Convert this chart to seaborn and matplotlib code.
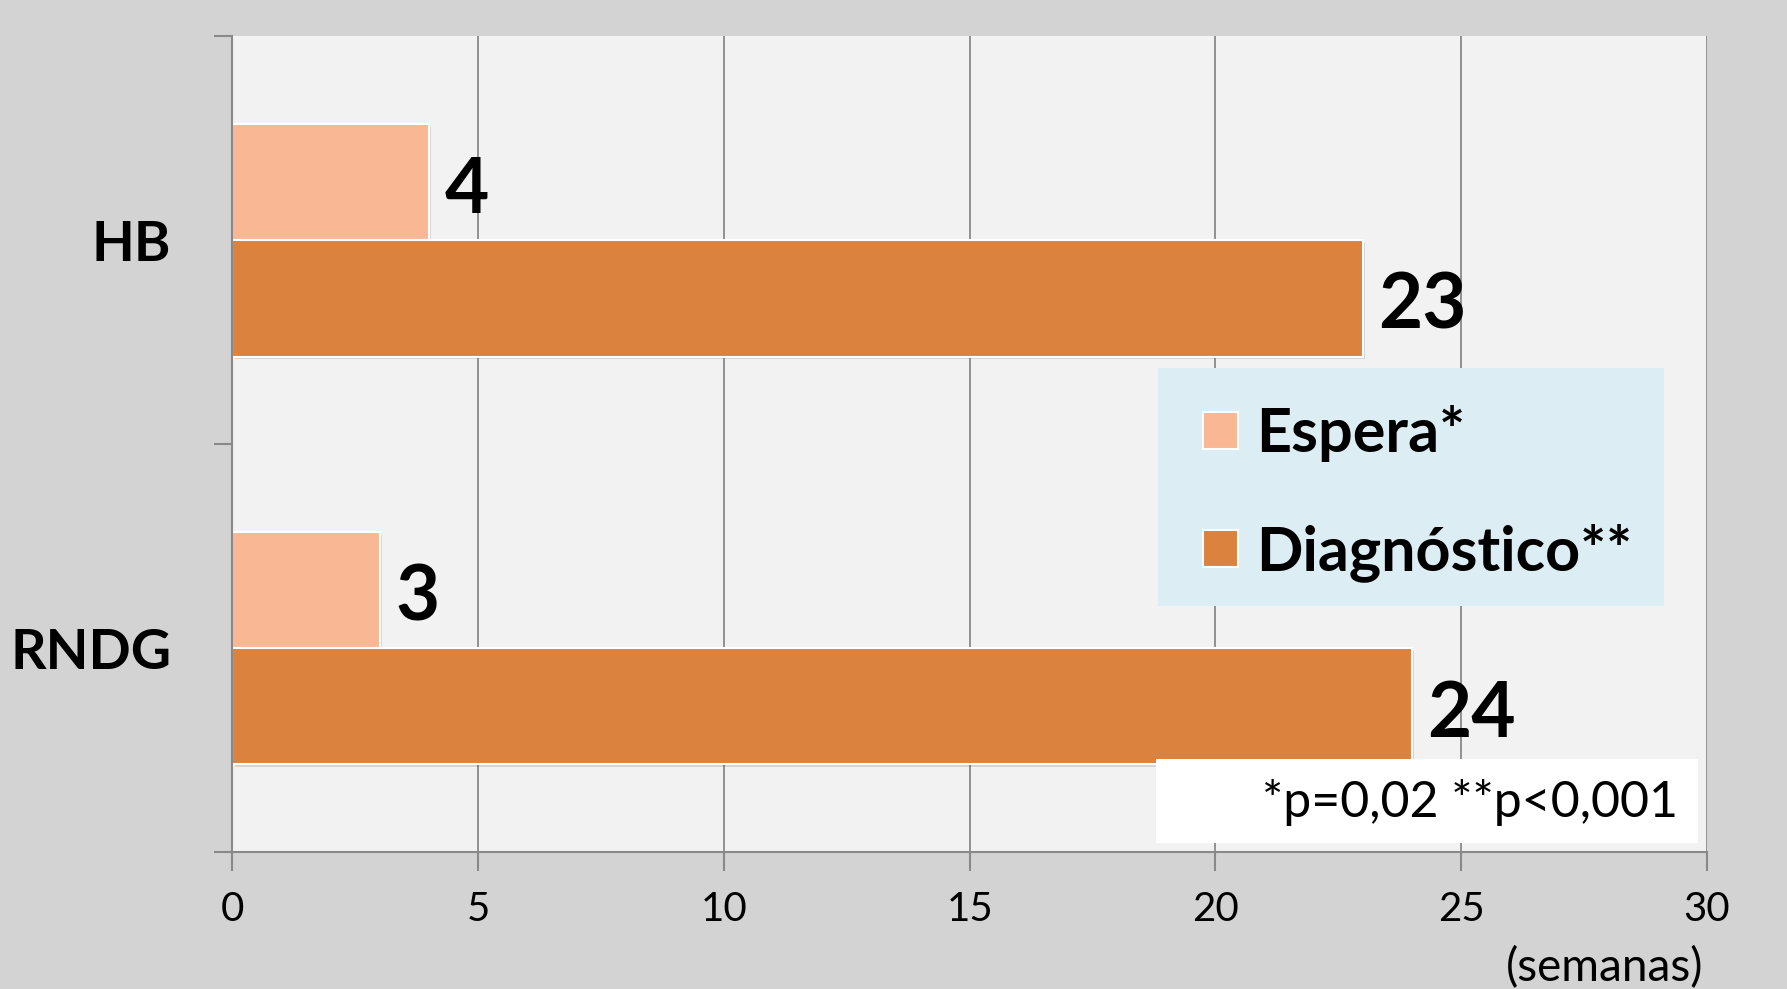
import pandas as pd
import seaborn as sns
import matplotlib.pyplot as plt
import matplotlib.patheffects as pe
from matplotlib.patches import Patch, Rectangle

# data
categorias = ["HB", "RNDG"]
series = ["Espera*", "Diagnóstico**"]
espera = [4, 3]
diagnostico = [23, 24]
xticks = [0, 5, 10, 15, 20, 25, 30]
colores = ["#F9B794", "#DB823F"]

df = pd.DataFrame({
    "grupo": categorias * 2,
    "serie": [series[0]] * 2 + [series[1]] * 2,
    "semanas": espera + diagnostico,
})

sns.set_style("white")
plt.rcParams["font.family"] = ["Lato", "DejaVu Sans"]
plt.rcParams["text.color"] = "black"
plt.rcParams["xtick.labelcolor"] = "black"
plt.rcParams["ytick.labelcolor"] = "black"
GRIS = "#898989"

fig = plt.figure(figsize=(17.87, 9.89), dpi=100, facecolor="#D3D3D3")
ax = fig.add_axes([0.1301, 0.1385, 0.9552 - 0.1301, 0.9631 - 0.1385])
ax.set_facecolor("#F2F2F2")

sns.barplot(data=df, y="grupo", x="semanas", hue="serie", hue_order=series,
            order=categorias, orient="h", palette=colores, saturation=1,
            width=0.57, edgecolor="white", linewidth=1.5, legend=False, ax=ax)

# soft drop shadow under the bars
for bar in ax.patches:
    bar.set_path_effects([pe.SimplePatchShadow(offset=(1.5, -2), alpha=0.15),
                          pe.Normal()])

for cont in ax.containers:
    labels = ax.bar_label(cont, padding=11, fontsize=55, fontweight="bold", color="black")
    for t in labels:  # nudge down a little, digits sit low in the original font
        t.xyann = (t.xyann[0], t.xyann[1] - 6)

ax.set_xlim(0, 30)
ax.set_ylim(1.5, -0.5)
ax.set_xticks(xticks)
ax.set_xticklabels([str(t) for t in xticks], fontsize=29)
ax.tick_params(axis="x", length=14, width=1.5, color=GRIS, pad=14, bottom=True)

# category labels on major ticks, boundary marks on minor ticks
ax.set_yticks([0, 1])
ax.set_yticklabels(categorias, fontsize=40, fontweight="bold")
ax.set_yticks([-0.5, 0.5, 1.5], minor=True)
ax.tick_params(axis="y", which="major", length=0, pad=44)
ax.tick_params(axis="y", which="minor", length=13, width=1.5, color=GRIS, left=True)

ax.set_xlabel("")
ax.set_ylabel("")
ax.grid(axis="x", color=GRIS, linewidth=1.3)
ax.grid(axis="y", visible=False)
ax.set_axisbelow(True)
for s in ["top", "right"]:
    ax.spines[s].set_visible(False)
for s in ["left", "bottom"]:
    ax.spines[s].set_color(GRIS)
    ax.spines[s].set_linewidth(1.5)

W, H = 1787, 989

# legend box
fig.patches.append(Rectangle((1158 / W, 1 - 606 / H), 506 / W, 238 / H,
                             transform=fig.transFigure, facecolor="#DCEDF3",
                             edgecolor="none", zorder=5))
handles = [Patch(facecolor=c, edgecolor="white", linewidth=1.5) for c in colores]
leg = fig.legend(handles, series, loc="upper left",
                 bbox_to_anchor=(1203 / W, 1 - 405 / H), frameon=False,
                 prop={"size": 44, "weight": "bold"}, handlelength=0.57,
                 handleheight=0.57, handletextpad=0.3, labelspacing=1.0,
                 borderpad=0, borderaxespad=0)
leg.set_zorder(6)

# p-value box
fig.patches.append(Rectangle((1156 / W, 1 - 843 / H), 542 / W, 84 / H,
                             transform=fig.transFigure, facecolor="white",
                             edgecolor="none", zorder=5))
fig.text(1678 / W, 1 - 802 / H, "*p=0,02 **p<0,001", fontsize=36,
         ha="right", va="center", zorder=6)

fig.text(1605 / W, 1 - 968 / H, "(semanas)", fontsize=33, ha="center", va="center")

fig.savefig("out.png", dpi=100, facecolor=fig.get_facecolor())
